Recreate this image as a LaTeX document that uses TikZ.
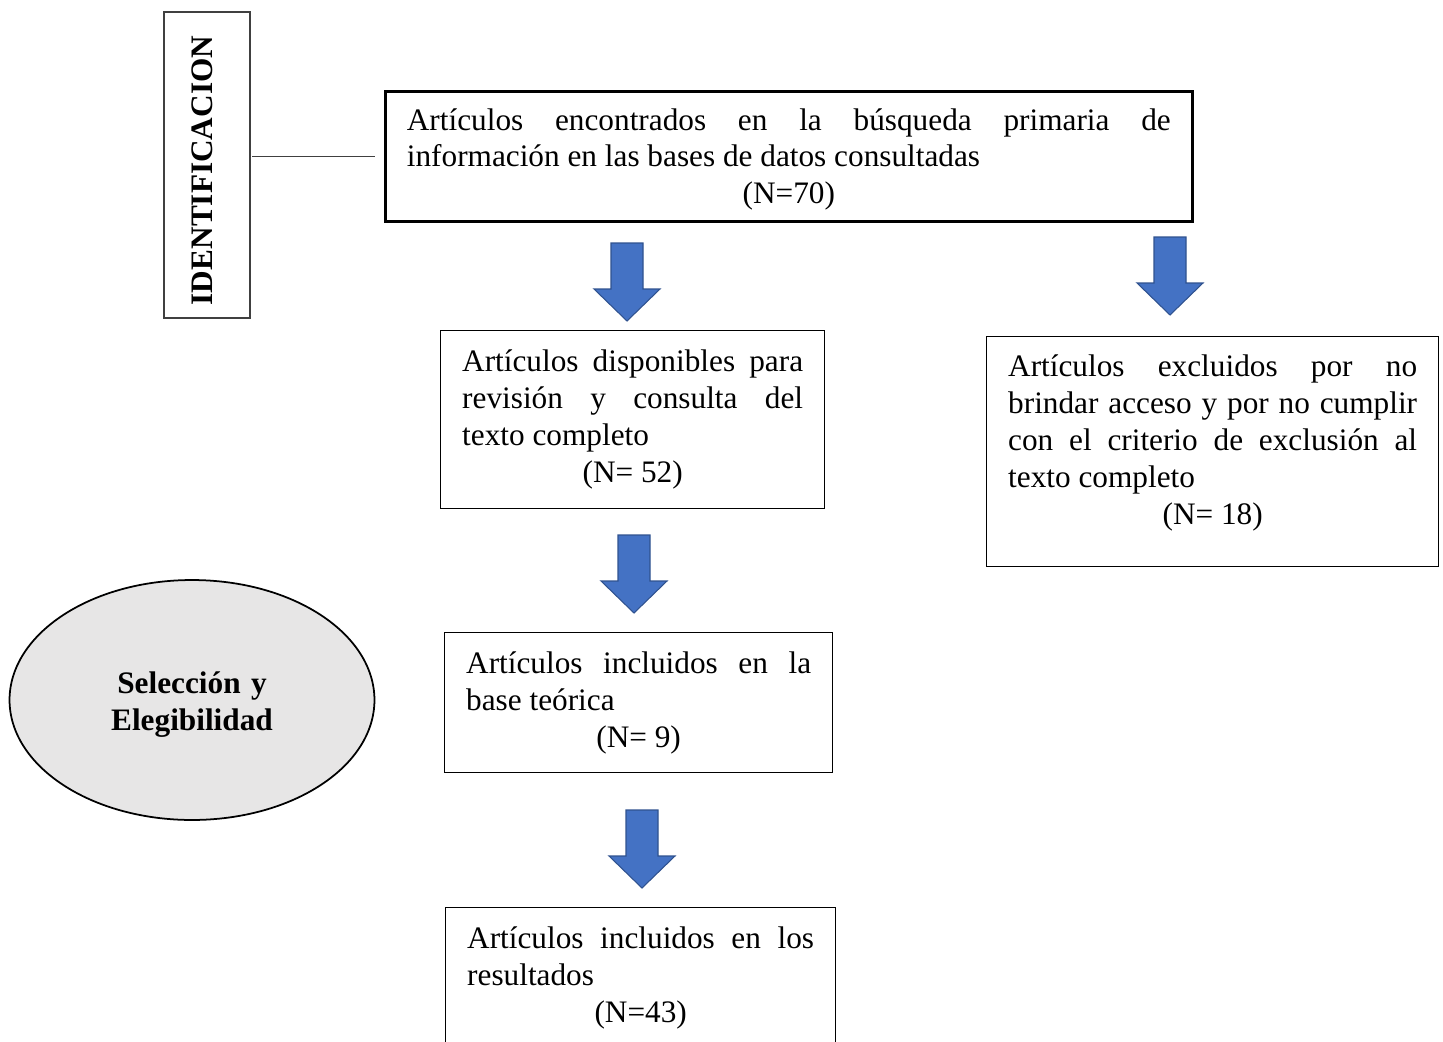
\documentclass[tikz,border=0pt]{standalone}
\usepackage{fontspec}
\setmainfont{Liberation Serif}
\usepackage{xcolor}
\usepackage{tikz}
\usetikzlibrary{shapes.geometric}
\definecolor{azulflecha}{HTML}{4472C4}
\definecolor{bordeflecha}{HTML}{2F528F}
\definecolor{grisovalo}{HTML}{E7E6E6}
\definecolor{grislinea}{HTML}{404040}
% espacio final dentro de una caja (desplaza el texto)
\newcommand{\ajuste}[1]{\par\vskip#1\hrule height0pt}

\begin{document}
\begin{tikzpicture}[x=0.02cm,y=-0.02cm,
	caja/.style={draw,rectangle,anchor=north west,inner xsep=0.43cm,inner ysep=0pt,
		align=justify,font=\fontsize{17.8}{21}\selectfont,line width=0.8pt},
	flecha/.style={fill=azulflecha,draw=bordeflecha,line width=0.6pt}]
	\useasboundingbox (0,0) rectangle (1443,1041);
	% Etapa de identificación
	\node[draw=grislinea,line width=0.8pt,rotate=90,minimum width=6.12cm,minimum height=1.72cm,
		font=\fontsize{17.8}{21}\selectfont\bfseries] (ident) at (207,165)
		{IDENTIFICACION\rule[-0.18cm]{0pt}{0pt}\hspace*{0.22cm}};
	\node[caja,line width=1.6pt,text width=15.28cm,minimum height=2.6cm] (encontrados) at (384,90)
		{Artículos encontrados en la búsqueda primaria de\linebreak
		información en las bases de datos consultadas\par{\centering (N=70)\par}\ajuste{-0.12cm}};
	\draw[grislinea,line width=0.6pt,shorten <=1,shorten >=5] (ident.south |- encontrados.west) -- (encontrados.west);
	% Cajas de selección
	\node[caja,text width=6.82cm,minimum height=3.56cm] (disponibles) at (440,330)
		{Artículos disponibles para\linebreak revisión y consulta del\linebreak
		texto completo\par{\centering (N= 52)\par}};
	\node[caja,text width=8.18cm,minimum height=4.6cm] (excluidos) at (986,336)
		{Artículos excluidos por no\linebreak brindar acceso y por no cumplir\linebreak
		con el criterio de exclusión al\linebreak texto completo\par{\centering (N= 18)\par}\ajuste{0.36cm}};
	\node[caja,text width=6.90cm,minimum height=2.8cm] (teorica) at (444,632)
		{Artículos incluidos en la\linebreak base teórica\par{\centering (N= 9)\par}};
	\node[caja,text width=6.94cm,minimum height=2.8cm] (resultados) at (445,907)
		{Artículos incluidos en los\linebreak resultados\par{\centering (N=43)\par}};
	% Óvalo
	\node[ellipse,draw,fill=grisovalo,line width=1pt,minimum width=7.3cm,minimum height=4.8cm,
		text width=4.5cm,align=center,font=\fontsize{17.8}{21}\selectfont\bfseries] (seleccion) at (192,700)
		{Selección y\par Elegibilidad\ajuste{-0.2cm}};
	% Flechas de bloque
	\foreach \cx/\ty in {627/243,1170/237,634/535,642/810}
		\draw[flecha] (\cx-16,\ty) -- (\cx+16,\ty) -- (\cx+16,\ty+46) -- (\cx+33,\ty+46)
			-- (\cx,\ty+78) -- (\cx-33,\ty+46) -- (\cx-16,\ty+46) -- cycle;
\end{tikzpicture}
\end{document}
